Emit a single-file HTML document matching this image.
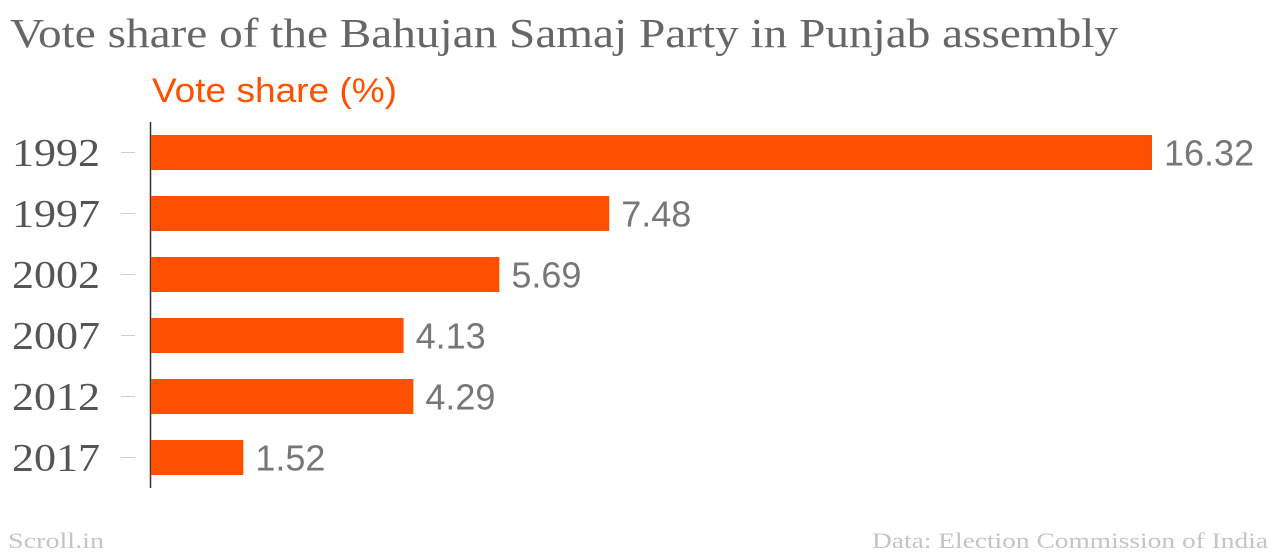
<!DOCTYPE html>
<html><head><meta charset="utf-8">
<style>
body{margin:0;width:1280px;height:554px;background:#fff;overflow:hidden;}
svg{display:block}
</style></head>
<body>
<svg id="chart" width="1280" height="554">
<text x="10" y="47" textLength="1108" lengthAdjust="spacingAndGlyphs" font-family="'Liberation Serif','DejaVu Serif',serif" font-size="41" fill="#666">Vote share of the Bahujan Samaj Party in Punjab assembly</text>
<text x="152" y="102" textLength="245" lengthAdjust="spacingAndGlyphs" font-family="'Liberation Sans','DejaVu Sans',sans-serif" font-size="34" fill="#ff5000">Vote share (%)</text>
<line x1="150.5" y1="122" x2="150.5" y2="488" stroke="#333" stroke-width="1.5"/>
<g id="bars"></g>
<text x="8" y="548" textLength="96" lengthAdjust="spacingAndGlyphs" font-family="'Liberation Serif','DejaVu Serif',serif" font-size="22" fill="#c4c4c4">Scroll.in</text>
<text x="872" y="548" textLength="396" lengthAdjust="spacingAndGlyphs" font-family="'Liberation Serif','DejaVu Serif',serif" font-size="22" fill="#c4c4c4">Data: Election Commission of India</text>
</svg>
<script>
const categories = ["1992","1997","2002","2007","2012","2017"];
const values = [16.32, 7.48, 5.69, 4.13, 4.29, 1.52];
const valueLabels = ["16.32","7.48","5.69","4.13","4.29","1.52"];

const x0 = 150, xPerUnit = 1002/16.32;
const xScale = v => x0 + v*xPerUnit;
const yTop = 135, step = 61, barH = 35;
const yScale = i => yTop + i*step;
const NS = "http://www.w3.org/2000/svg";
const g = document.getElementById("bars");
categories.forEach((c,i)=>{
  const y = yScale(i);
  const r = document.createElementNS(NS,"rect");
  r.setAttribute("x", x0+1); r.setAttribute("y", y);
  r.setAttribute("width", xScale(values[i])-x0-1); r.setAttribute("height", barH);
  r.setAttribute("fill","#ff5000");
  
  
  g.appendChild(r);
  const t = document.createElementNS(NS,"line");
  t.setAttribute("x1",121); t.setAttribute("x2",135);
  t.setAttribute("y1",y+barH/2); t.setAttribute("y2",y+barH/2);
  t.setAttribute("stroke","#ccc"); t.setAttribute("stroke-width",1);
  
  
  g.appendChild(t);
  const yl = document.createElementNS(NS,"text");
  yl.setAttribute("x",12); yl.setAttribute("y",y+barH/2+13);
  yl.setAttribute("textLength",88);
  yl.setAttribute("lengthAdjust","spacingAndGlyphs");
  yl.setAttribute("font-family","'Liberation Serif','DejaVu Serif',serif");
  yl.setAttribute("font-size","39"); yl.setAttribute("fill","#555");
  yl.textContent = c;
  
  
  g.appendChild(yl);
  const vl = document.createElementNS(NS,"text");
  vl.setAttribute("x",xScale(values[i])+12); vl.setAttribute("y",y+barH/2+13);
  vl.setAttribute("font-family","'Liberation Sans','DejaVu Sans',sans-serif");
  vl.setAttribute("font-size","36"); vl.setAttribute("fill","#777");
  vl.textContent = valueLabels[i];
  
  
  g.appendChild(vl);
});
</script>
</body></html>
